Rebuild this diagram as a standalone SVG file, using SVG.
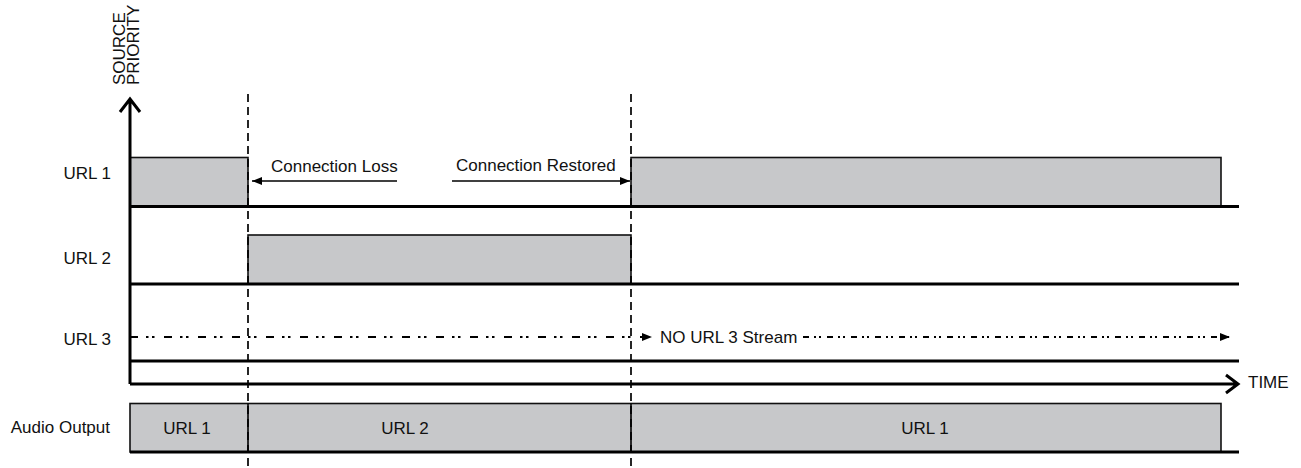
<svg xmlns="http://www.w3.org/2000/svg" width="1301" height="468" viewBox="0 0 1301 468">
<defs>
<style>
text{font-family:"Liberation Sans",Arial,sans-serif;font-size:17px;fill:#111}
.box{fill:#c7c8ca;stroke:#111;stroke-width:1.6}
.thick{stroke:#000;stroke-width:3;fill:none}
.div{stroke:#000;stroke-width:1.7;stroke-dasharray:8 5;fill:none}
.thin{stroke:#000;stroke-width:1.6;fill:none}
.dd1{stroke:#000;stroke-width:1.8;fill:none;stroke-dasharray:8 8 2.5 3.5 2.5 9.5}
.dd2{stroke:#000;stroke-width:1.8;fill:none;stroke-dasharray:6 5 2 3 2 6}
</style>
<marker id="tri" viewBox="0 0 10 8" refX="10" refY="4" markerWidth="10" markerHeight="8" markerUnits="userSpaceOnUse" orient="auto">
<path d="M0,0 L10,4 L0,8 z" fill="#000"/>
</marker>
</defs>

<g id="axis-labels">
<text transform="translate(125,85) rotate(-90)">SOURCE</text>
<text transform="translate(139,85) rotate(-90)">PRIORITY</text>
<text x="111" y="179" text-anchor="end">URL 1</text>
<text x="111" y="264" text-anchor="end">URL 2</text>
<text x="111" y="345" text-anchor="end">URL 3</text>
<text x="110" y="433" text-anchor="end">Audio Output</text>
<text x="1248" y="388">TIME</text>
</g>

<g id="url1-a"><rect class="box" x="130" y="157.5" width="118" height="49"/></g>
<g id="url1-b"><rect class="box" x="631" y="157.5" width="590" height="49"/></g>
<g id="url2"><rect class="box" x="248" y="235" width="383" height="49"/></g>

<g id="audio-output">
<rect class="box" x="130" y="403.5" width="1091" height="48.5"/>
<line class="thin" x1="248" y1="403.5" x2="248" y2="452"/>
<line class="thin" x1="631" y1="403.5" x2="631" y2="452"/>
<text x="187" y="434" text-anchor="middle">URL 1</text>
<text x="405" y="434" text-anchor="middle">URL 2</text>
<text x="925" y="434" text-anchor="middle">URL 1</text>
</g>

<g id="connectors">
<line class="thick" x1="130" y1="206.5" x2="1239" y2="206.5"/>
<line class="thick" x1="130" y1="284" x2="1239" y2="284"/>
<line class="thick" x1="130" y1="361" x2="1239" y2="361"/>
<line class="thick" x1="130" y1="452" x2="1239" y2="452"/>
<path class="thick" d="M130,384 L130,99 M120,112 L130,99 L140,112"/>
<path class="thick" d="M130,384 L1238,384 M1226,375 L1238,384 L1226,393"/>
<line class="div" x1="248" y1="94" x2="248" y2="468"/>
<line class="div" x1="631" y1="94" x2="631" y2="468"/>
<line class="dd1" x1="130" y1="337" x2="652" y2="337" marker-end="url(#tri)"/>
<line class="dd2" x1="803" y1="337" x2="1230" y2="337" marker-end="url(#tri)"/>
<line class="thin" x1="397" y1="181" x2="252" y2="181" marker-end="url(#tri)"/>
<line class="thin" x1="452" y1="181" x2="630" y2="181" marker-end="url(#tri)"/>
<text x="271" y="172">Connection Loss</text>
<text x="456" y="171">Connection Restored</text>
<text x="660" y="343">NO URL 3 Stream</text>
</g>
</svg>
